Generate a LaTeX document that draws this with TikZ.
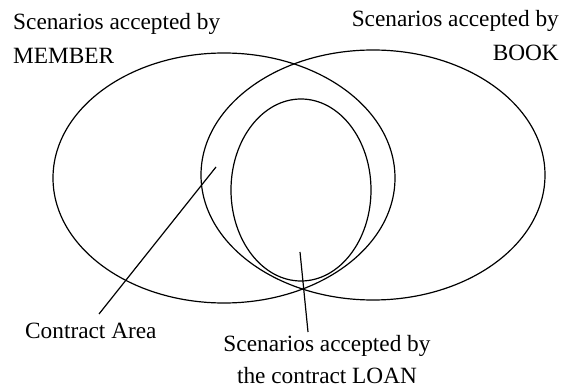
\documentclass[tikz,border=0pt]{standalone}
\usepackage{fontspec}
\setmainfont{Liberation Serif}
\usetikzlibrary{shapes.geometric}
\begin{document}
\begin{tikzpicture}[x=1pt,y=-1pt,
  set/.style={draw, ellipse, line width=1.2pt, inner sep=0pt},
  lbl/.style={inner sep=0pt, font=\fontsize{23.3}{27}\selectfont},
  pointer/.style={line width=1.2pt}]
  \useasboundingbox (0,0) rectangle (565,387);

  % the three scenario sets
  \node[set, minimum width=342pt, minimum height=250pt] (member) at (224,178) {};
  \node[set, minimum width=344pt, minimum height=250pt] (book) at (373,175) {};
  \node[set, minimum width=140pt, minimum height=182pt] (loan) at (301,190) {};

  % captions
  \node[lbl, anchor=base west] (memberA) at (13,30) {Scenarios accepted by};
  \node[lbl, anchor=base west] (memberB) at (13,63.5) {MEMBER};
  \node[lbl, anchor=base east] (bookA) at (559,27) {Scenarios accepted by};
  \node[lbl, anchor=base east] (bookB) at (559,61) {BOOK};
  \node[lbl, anchor=base west] (area) at (25,339) {Contract Area};
  \node[lbl, anchor=base] (loanA) at (327,352) {Scenarios accepted by};
  \node[lbl, anchor=base] (loanB) at (327,383) {the contract LOAN};

  % pointers from the labels into the diagram
  \coordinate (areaIn) at (216,167);
  \coordinate (areaOut) at (99,314);
  \coordinate (loanIn) at (300,252);
  \coordinate (loanOut) at (308,332);
  \draw[pointer] (areaIn) -- (areaOut);
  \draw[pointer] (loanIn) -- (loanOut);
\end{tikzpicture}
\end{document}
